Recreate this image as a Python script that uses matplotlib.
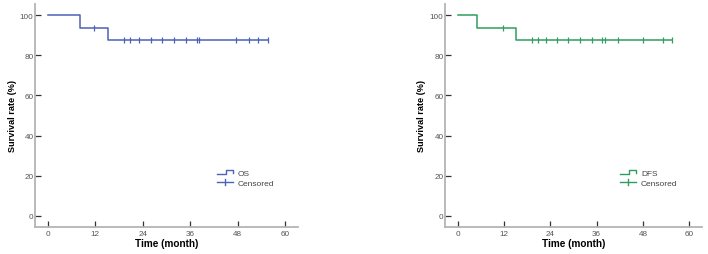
import numpy as np
import matplotlib
matplotlib.use("Agg")
import matplotlib.pyplot as plt
from matplotlib.legend_handler import HandlerBase
from matplotlib.lines import Line2D

plt.rcParams['font.family'] = ['Liberation Sans', 'DejaVu Sans']

# ---- data ----
x_ticks = [0, 12, 24, 36, 48, 60]
y_ticks = [0, 20, 40, 60, 80, 100]

os_step_t = [0, 8.1, 15.1, 55.6]
os_step_s = [100, 93.75, 87.5, 87.5]
os_censor_t = [11.7, 19.3, 20.8, 23.0, 26.0, 28.8, 31.8, 35.0, 37.7, 38.2,
               47.6, 51.0, 53.2, 55.6]

dfs_step_t = [0, 5.0, 15.0, 55.4]
dfs_step_s = [100, 93.75, 87.5, 87.5]
dfs_censor_t = [11.7, 19.3, 20.8, 23.0, 25.8, 28.7, 31.7, 34.8, 37.5, 38.1,
                41.5, 48.0, 53.1, 55.4]

blue = '#4a62b8'
green = '#2f9e5f'


class StepHandler(HandlerBase):
    def create_artists(self, legend, orig_handle, xdescent, ydescent,
                       width, height, fontsize, trans):
        x0 = -xdescent
        x1 = x0 + width
        xm = x0 + width * 0.55
        ylo = -ydescent + height * 0.15
        yhi = -ydescent + height * 0.85
        ln = Line2D([x0, xm, xm, x1, x1], [ylo, ylo, yhi, yhi, ylo + height * 0.25],
                    color=orig_handle.get_color(), lw=orig_handle.get_linewidth())
        ln.set_transform(trans)
        return [ln]


class CensorHandler(HandlerBase):
    def create_artists(self, legend, orig_handle, xdescent, ydescent,
                       width, height, fontsize, trans):
        x0 = -xdescent
        x1 = x0 + width
        yc = -ydescent + height / 2
        h = Line2D([x0, x1], [yc, yc], color=orig_handle.get_color(),
                   lw=orig_handle.get_linewidth())
        v = Line2D([x0 + width / 2, x0 + width / 2], [yc - height * 0.55, yc + height * 0.55],
                   color=orig_handle.get_color(), lw=orig_handle.get_linewidth())
        h.set_transform(trans)
        v.set_transform(trans)
        return [h, v]


W, H = 708, 255
fig = plt.figure(figsize=(W / 100, H / 100), dpi=100)


def make_panel(px_left, px_right, step_t, step_s, censor_t, color, name, leg_x, ylabel_x):
    ax = fig.add_axes([px_left / W, (H - 228) / H, (px_right - px_left) / W, 223 / H])
    ax.plot(step_t, step_s, drawstyle='steps-post', color=color, lw=1.1)
    st = np.asarray(step_t)
    ss = np.asarray(step_s)
    ct = np.asarray(censor_t)
    cs = ss[np.searchsorted(st, ct, side='right') - 1]
    ax.plot(ct, cs, linestyle='none', marker='|', markersize=4.2, mew=0.9, color=color)

    ax.set_xlim(-3.3, 63.3)
    ax.set_ylim(-5.5, 105.5)
    ax.set_xticks(x_ticks)
    ax.set_yticks(y_ticks)
    for s in ['top', 'right']:
        ax.spines[s].set_visible(False)
    for s in ['left', 'bottom']:
        ax.spines[s].set_color('#b4b4b4')
        ax.spines[s].set_linewidth(1.3)
    ax.tick_params(axis='both', direction='in', length=4.5, width=0.9, color='#333333',
                   labelsize=5.9, labelcolor='#555555')
    ax.tick_params(axis='y', pad=1)
    ax.tick_params(axis='x', pad=2.5)
    ax.set_xlabel('Time (month)', fontsize=7.2, fontweight='bold')
    ax.set_ylabel('Survival rate (%)', fontsize=6.6, fontweight='bold')
    ax.xaxis.set_label_coords(0.5, -0.048)
    ax.yaxis.set_label_coords(ylabel_x, 0.5)

    h1 = Line2D([], [], color=color, lw=1.0)
    h2 = Line2D([], [], color=color, lw=1.0)
    ax.legend([h1, h2], [name, 'Censored'],
              handler_map={h1: StepHandler(), h2: CensorHandler()},
              loc='upper left', bbox_to_anchor=(leg_x, 0.258), frameon=False,
              fontsize=6.0, borderpad=0, borderaxespad=0, handlelength=2.0,
              handletextpad=0.55, labelspacing=0.2, labelcolor='#444444')
    return ax


make_panel(35, 298, os_step_t, os_step_s, os_censor_t, blue, 'OS', 0.691, -0.07)
make_panel(445, 702, dfs_step_t, dfs_step_s, dfs_censor_t, green, 'DFS', 0.68, -0.072)

fig.savefig('out.png', dpi=100)
